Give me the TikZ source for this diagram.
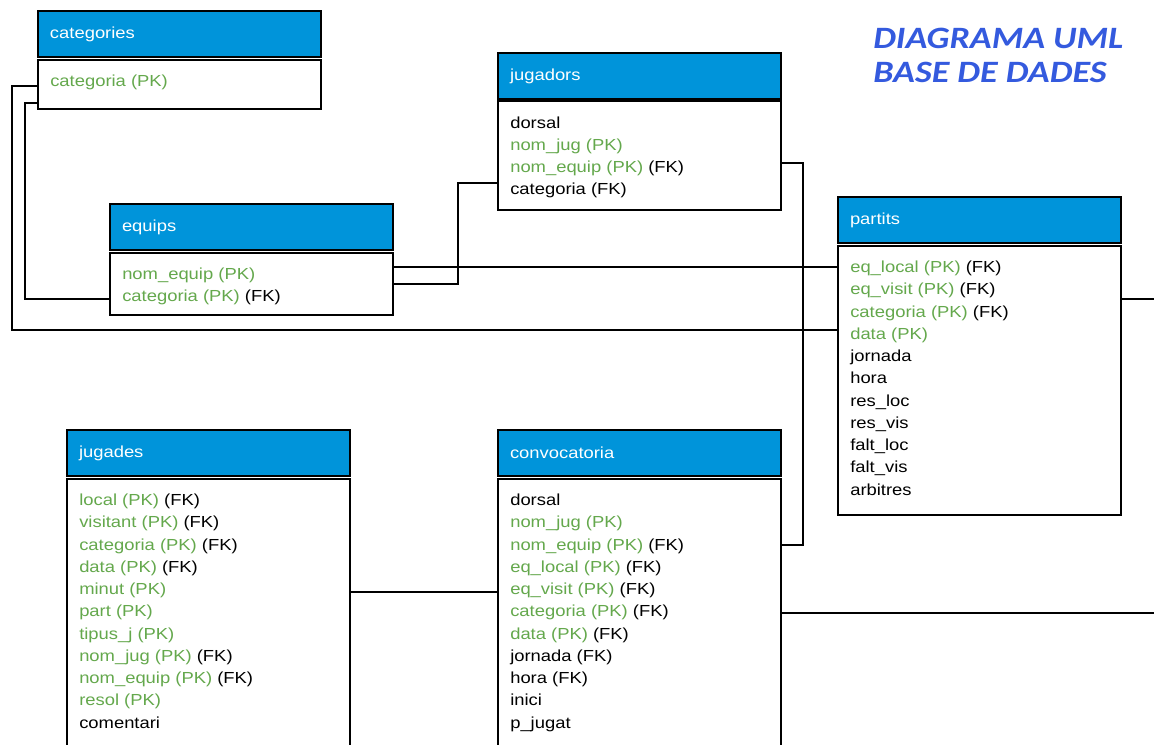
\documentclass[tikz,border=0pt]{standalone}
\usepackage{fontspec}
\newfontfamily\taulafont[FakeStretch=1.15]{Liberation Sans}
\newfontfamily\titolfont[FakeStretch=1.16]{Carlito}
\definecolor{blauuml}{RGB}{0,148,218}
\definecolor{verdpk}{RGB}{100,168,76}
\definecolor{blautitol}{RGB}{52,90,222}
\newcommand{\pk}[1]{\textcolor{verdpk}{#1}}
\begin{document}
\begin{tikzpicture}[x=0.75pt, y=-0.75pt,
                capcalera/.style={draw=black, line width=1.8pt, fill=blauuml, anchor=north west, outer sep=0pt,
                    minimum width=212.25pt, minimum height=34.5pt, text width=194.25pt, inner xsep=9pt, inner ysep=0pt,
                    align=left, text=white, font=\taulafont\fontsize{12}{14}\selectfont},
                cos/.style={draw=black, line width=1.8pt, fill=white, anchor=north west, outer sep=0pt,
                    minimum width=212.25pt, inner sep=0pt},
                camps/.style={anchor=north west, inner sep=0pt, align=left, font=\taulafont\fontsize{12}{16.7}\selectfont},
                enllac/.style={draw=black, line width=1.3pt},
                titol/.style={anchor=north west, inner sep=0pt, align=left, text=blautitol,
                    font=\titolfont\bfseries\itshape\fontsize{23.3}{25.5}\selectfont},
            ]
            \useasboundingbox (0,0) rectangle (1154,745);
            \clip (0,0) rectangle (1154,745);
            % taules
            \node[capcalera] (categories-h) at (38,11) {categories};
            \node[cos, minimum height=36.75pt] (categories-b) at ([yshift=-2.25pt]categories-h.south west) {};
            \node[camps] (categories-c) at ([xshift=9pt, yshift=-11pt]categories-b.north west) {\pk{categoria (PK)}};

            \node[capcalera] (jugadors-h) at (498,53) {jugadors};
            \node[cos, minimum height=82pt] (jugadors-b) at ([yshift=-1.4pt]jugadors-h.south west) {};
            \node[camps] (jugadors-c) at ([xshift=9pt, yshift=-11.5pt]jugadors-b.north west)
                {dorsal\\ \pk{nom\_jug (PK)}\\ \pk{nom\_equip (PK)} (FK)\\ categoria (FK)};

            \node[capcalera] (equips-h) at (110,204) {equips};
            \node[cos, minimum height=46.5pt] (equips-b) at ([yshift=-2.25pt]equips-h.south west) {};
            \node[camps] (equips-c) at ([xshift=9pt, yshift=-11pt]equips-b.north west)
                {\pk{nom\_equip (PK)}\\ \pk{categoria (PK)} (FK)};

            \node[capcalera] (partits-h) at (838,197) {partits};
            \node[cos, minimum height=201.75pt] (partits-b) at ([yshift=-2.25pt]partits-h.south west) {};
            \node[camps] (partits-c) at ([xshift=9pt, yshift=-11pt]partits-b.north west)
                {\pk{eq\_local (PK)} (FK)\\ \pk{eq\_visit (PK)} (FK)\\ \pk{categoria (PK)} (FK)\\ \pk{data (PK)}\\
                 jornada\\ hora\\ res\_loc\\ res\_vis\\ falt\_loc\\ falt\_vis\\ arbitres};

            \node[capcalera] (jugades-h) at (67,430) {jugades};
            \node[cos, minimum height=225pt] (jugades-b) at ([yshift=-2.25pt]jugades-h.south west) {};
            \node[camps] (jugades-c) at ([xshift=9pt, yshift=-11pt]jugades-b.north west)
                {\pk{local (PK)} (FK)\\ \pk{visitant (PK)} (FK)\\ \pk{categoria (PK)} (FK)\\ \pk{data (PK)} (FK)\\
                 \pk{minut (PK)}\\ \pk{part (PK)}\\ \pk{tipus\_j (PK)}\\ \pk{nom\_jug (PK)} (FK)\\
                 \pk{nom\_equip (PK)} (FK)\\ \pk{resol (PK)}\\ comentari};

            \node[capcalera] (convocatoria-h) at (498,430) {convocatoria};
            \node[cos, minimum height=225pt] (convocatoria-b) at ([yshift=-2.25pt]convocatoria-h.south west) {};
            \node[camps] (convocatoria-c) at ([xshift=9pt, yshift=-11pt]convocatoria-b.north west)
                {dorsal\\ \pk{nom\_jug (PK)}\\ \pk{nom\_equip (PK)} (FK)\\ \pk{eq\_local (PK)} (FK)\\
                 \pk{eq\_visit (PK)} (FK)\\ \pk{categoria (PK)} (FK)\\ \pk{data (PK)} (FK)\\ jornada (FK)\\
                 hora (FK)\\ inici\\ p\_jugat};

            \node[titol] (titol) at (873,28) {DIAGRAMA UML\\BASE DE DADES};

            % punts de pas de les relacions
            \coordinate (cat1) at (0,86);
            \coordinate (cat2) at (0,103);
            \coordinate (eq1) at (0,267);
            \coordinate (eq2) at (0,284);
            \coordinate (jug1) at (0,163);
            \coordinate (jd1) at (0,592);
            \coordinate (lvA) at (12,330);
            \coordinate (lvB) at (25,299);
            \coordinate (lvC) at (458,183);
            \coordinate (lvD) at (803,545);
            \coordinate (outP) at (1154,299);
            \coordinate (outC) at (1154,613);

            % relacions
            \draw[enllac] (categories-b.west |- cat1) -| (lvA) -- (lvA -| partits-b.west);
            \draw[enllac] (categories-b.west |- cat2) -| (lvB) -- (lvB -| equips-b.west);
            \draw[enllac] (equips-b.east |- eq1) -- (eq1 -| partits-b.west);
            \draw[enllac] (equips-b.east |- eq2) -| (lvC) -- (lvC -| jugadors-b.west);
            \draw[enllac] (jugadors-b.east |- jug1) -| (lvD) -- (lvD -| convocatoria-b.east);
            \draw[enllac] (jugades-b.east |- jd1) -- (jd1 -| convocatoria-b.west);
            \draw[enllac] (partits-b.east |- outP) -- (outP);
            \draw[enllac] (convocatoria-b.east |- outC) -- (outC);
        \end{tikzpicture}
\end{document}
